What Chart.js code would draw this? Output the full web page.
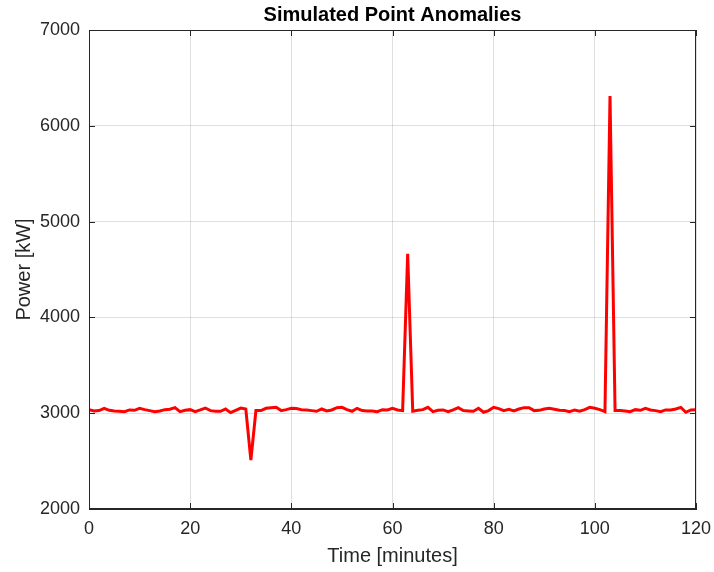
<!DOCTYPE html>
<html>
<head>
<meta charset="utf-8">
<script src="https://cdn.jsdelivr.net/npm/chart.js@4"></script>
<style>
  html, body { margin: 0; padding: 0; background: #fff; }
  canvas { display: block; }
</style>
</head>
<body>
<canvas id="chart" width="714" height="572"></canvas>
<script>
// time axis, one sample per minute
const minutes = [
  0, 1, 2, 3, 4, 5, 6, 7, 8, 9, 10, 11, 12, 13, 14, 15, 16, 17, 18, 19,
  20, 21, 22, 23, 24, 25, 26, 27, 28, 29, 30, 31, 32, 33, 34, 35, 36, 37, 38, 39,
  40, 41, 42, 43, 44, 45, 46, 47, 48, 49, 50, 51, 52, 53, 54, 55, 56, 57, 58, 59,
  60, 61, 62, 63, 64, 65, 66, 67, 68, 69, 70, 71, 72, 73, 74, 75, 76, 77, 78, 79,
  80, 81, 82, 83, 84, 85, 86, 87, 88, 89, 90, 91, 92, 93, 94, 95, 96, 97, 98, 99,
  100, 101, 102, 103, 104, 105, 106, 107, 108, 109, 110, 111, 112, 113, 114, 115, 116, 117, 118, 119,
  120
];

// power in kW
const power = [
  3037, 3023, 3027, 3051, 3030, 3023, 3020, 3016, 3034, 3030,
  3051, 3037, 3027, 3016, 3023, 3037, 3041, 3058, 3016, 3030,
  3037, 3016, 3034, 3054, 3027, 3020, 3020, 3044, 3006, 3030,
  3054, 3044, 2510, 3027, 3027, 3051, 3058, 3061, 3027, 3037,
  3051, 3048, 3037, 3034, 3027, 3020, 3044, 3023, 3034, 3058,
  3061, 3037, 3020, 3051, 3027, 3023, 3023, 3016, 3037, 3034,
  3051, 3034, 3027, 4665, 3020, 3030, 3037, 3061, 3016, 3030,
  3034, 3016, 3034, 3058, 3027, 3023, 3020, 3051, 3010, 3027,
  3061, 3048, 3027, 3041, 3023, 3044, 3058, 3058, 3027, 3030,
  3044, 3051, 3041, 3030, 3027, 3016, 3034, 3020, 3037, 3061,
  3051, 3037, 3016, 6310, 3027, 3027, 3023, 3016, 3037, 3030,
  3051, 3034, 3027, 3016, 3034, 3034, 3044, 3061, 3010, 3034,
  3037
];

const xTicks = [0, 20, 40, 60, 80, 100, 120];
const yTicks = [2000, 3000, 4000, 5000, 6000, 7000];

const titleText = 'Simulated Point Anomalies';
const xLabel = 'Time [minutes]';
const yLabel = 'Power [kW]';

const axisColor = '#262626';
const gridColor = 'rgba(38,38,38,0.15)';
const fontFamily = '"Liberation Sans", Arial, Helvetica, sans-serif';

// matlab style box: top/right border, inward ticks and the title over the axes
const boxPlugin = {
  id: 'box',
  afterDraw(chart) {
    const ctx = chart.ctx;
    const a = chart.chartArea;
    const xs = chart.scales.x, ys = chart.scales.y;
    ctx.save();
    ctx.strokeStyle = axisColor;
    ctx.lineWidth = 1;
    ctx.strokeRect(a.left + 0.5, a.top + 0.5, a.right - a.left - 1, a.bottom - a.top - 1);
    const t = 6;
    ctx.beginPath();
    xTicks.forEach(v => {
      const px = Math.round(xs.getPixelForValue(v)) + 0.5;
      ctx.moveTo(px, a.bottom); ctx.lineTo(px, a.bottom - t);
      ctx.moveTo(px, a.top); ctx.lineTo(px, a.top + t);
    });
    yTicks.forEach(v => {
      const py = Math.round(ys.getPixelForValue(v)) + 0.5;
      ctx.moveTo(a.left, py); ctx.lineTo(a.left + t, py);
      ctx.moveTo(a.right, py); ctx.lineTo(a.right - t, py);
    });
    ctx.stroke();

    ctx.fillStyle = '#000';
    ctx.font = 'bold 20px ' + fontFamily;
    ctx.textAlign = 'center';
    ctx.textBaseline = 'middle';
    ctx.fillText(titleText, (a.left + a.right) / 2, 15);
    ctx.restore();
  }
};

new Chart(document.getElementById('chart').getContext('2d'), {
  type: 'line',
  data: {
    datasets: [{
      label: yLabel,
      data: minutes.map((m, i) => ({ x: m, y: power[i] })),
      borderColor: '#ff0000',
      borderWidth: 3,
      pointRadius: 0,
      tension: 0,
      fill: false
    }]
  },
  options: {
    responsive: false,
    animation: false,
    layout: { padding: { top: 30, right: 18, left: 0, bottom: 0 } },
    plugins: {
      legend: { display: false },
      tooltip: { enabled: false }
    },
    scales: {
      x: {
        type: 'linear',
        min: 0,
        max: 120,
        afterFit: s => {
          s.height = 63;
          s.paddingLeft = 0;
          s.paddingRight = 0;
        },
        afterBuildTicks: s => { s.ticks = xTicks.map(v => ({ value: v })); },
        grid: { color: gridColor, drawTicks: false },
        border: { color: axisColor },
        ticks: {
          color: axisColor,
          padding: 9,
          font: { family: fontFamily, size: 18 },
          callback: v => String(v)
        },
        title: {
          display: true,
          text: xLabel,
          color: axisColor,
          padding: { top: 0 },
          font: { family: fontFamily, size: 20 }
        }
      },
      y: {
        min: 2000,
        max: 7000,
        afterFit: s => {
          s.width = 89;
          s.paddingTop = 0;
          s.paddingBottom = 0;
        },
        afterBuildTicks: s => { s.ticks = yTicks.map(v => ({ value: v })); },
        grid: { color: gridColor, drawTicks: false },
        border: { color: axisColor },
        ticks: {
          color: axisColor,
          padding: 9,
          font: { family: fontFamily, size: 18 },
          callback: v => String(v)
        },
        title: {
          display: true,
          text: yLabel,
          color: axisColor,
          padding: { top: 12, bottom: 0 },
          font: { family: fontFamily, size: 20 }
        }
      }
    }
  },
  plugins: [boxPlugin]
});
</script>
</body>
</html>
